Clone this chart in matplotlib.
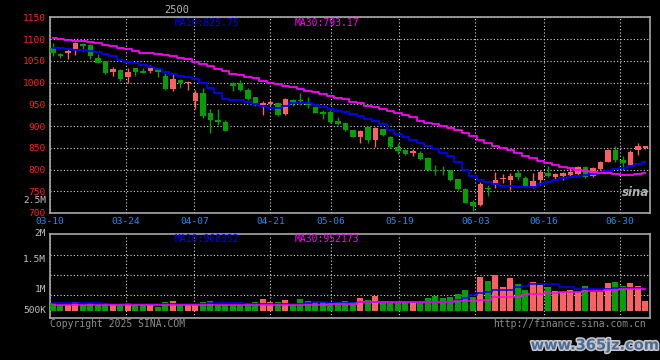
import matplotlib
matplotlib.use("Agg")
import matplotlib.pyplot as plt
import matplotlib.transforms as mtransforms
import matplotlib.patheffects as pe

# ---------------- data ----------------
date_labels = ["03-10", "03-24", "04-07", "04-21", "05-06", "05-19", "06-03", "06-16", "06-30"]
date_index = [0, 10, 19, 29, 37, 46, 56, 65, 75]

open_ = [1079, 1065, 1068, 1078, 1089, 1087, 1056, 1049, 1025, 1029,
         1013, 1033, 1026, 1027, 1033, 1015, 985, 1006, 998, 958,
         977, 929, 914, 909, 1000, 998, 983, 966, 948, 950,
         953, 928, 960, 960, 954, 944, 933, 933, 912, 908,
         891, 875, 898, 868, 893, 875, 851, 846, 839, 839,
         827, 800, 800, 799, 778, 755, 726, 718, 758, 764,
         778, 776, 791, 780, 762, 776, 793, 782, 785, 787,
         790, 806, 785, 801, 818, 846, 823, 810, 845, 849]
high = [1091, 1067, 1076, 1093, 1092, 1088, 1065, 1050, 1036, 1031,
        1033, 1034, 1034, 1040, 1034, 1021, 1020, 1008, 1004, 983,
        987, 939, 939, 913, 1002, 1006, 987, 967, 958, 960,
        955, 964, 963, 977, 967, 946, 937, 936, 921, 909,
        892, 891, 900, 898, 894, 877, 862, 848, 848, 842,
        828, 810, 807, 800, 779, 757, 730, 772, 764, 795,
        790, 791, 799, 784, 791, 798, 808, 793, 795, 806,
        808, 808, 806, 819, 847, 854, 831, 845, 860, 855]
low = [1061, 1056, 1053, 1063, 1073, 1053, 1044, 1019, 1015, 1003,
       998, 1016, 1022, 1022, 1013, 983, 980, 987, 983, 938,
       919, 883, 902, 888, 981, 981, 960, 946, 925, 945,
       922, 926, 945, 948, 941, 929, 915, 906, 902, 888,
       874, 862, 862, 851, 876, 850, 836, 834, 832, 822,
       797, 787, 787, 774, 753, 722, 705, 716, 739, 757,
       768, 753, 776, 760, 757, 765, 782, 776, 775, 784,
       788, 780, 782, 800, 817, 818, 800, 807, 833, 848]
close = [1067, 1061, 1073, 1091, 1085, 1060, 1046, 1023, 1031, 1008,
         1025, 1024, 1023, 1034, 1025, 985, 1008, 998, 1002, 977,
         923, 914, 910, 889, 992, 983, 962, 948, 952, 956,
         925, 962, 952, 957, 948, 931, 928, 910, 905, 891,
         875, 889, 869, 895, 879, 851, 843, 836, 843, 825,
         799, 797, 798, 776, 755, 724, 716, 767, 755, 777,
         780, 785, 782, 763, 774, 795, 785, 790, 791, 795,
         806, 783, 803, 818, 846, 822, 814, 841, 854, 854]

ma10 = [1080, 1078.5, 1077, 1075, 1074, 1072, 1070, 1066, 1060, 1052,
        1047, 1044, 1040, 1036, 1030, 1025, 1020, 1015.5, 1013, 1008,
        998, 987, 975, 962, 960, 959, 956, 951, 945, 941,
        941, 947, 952, 954, 952, 949, 944, 938, 935, 932,
        928, 922, 917, 912, 905, 892, 881, 874, 868, 860,
        855, 847, 839, 831, 818, 800, 785, 777, 772, 767,
        763, 761, 759, 759, 760, 766, 772, 777, 781, 783,
        785, 787, 790, 794, 797, 801, 804, 809, 813, 818]
ma30 = [1103, 1100, 1097, 1096, 1095, 1093, 1090, 1087, 1084, 1080,
        1076, 1072, 1069, 1068, 1066, 1063, 1060, 1057, 1053, 1048,
        1042, 1038, 1032, 1026, 1020, 1018, 1013, 1010, 1004, 1000,
        996, 992, 989, 985, 981, 978, 973, 969, 965, 961,
        956, 952, 947, 943, 939, 935, 930, 926, 920, 912,
        907, 904, 900, 896, 890, 884, 876, 868, 860, 853,
        849, 844, 837, 831, 826, 820, 815, 810, 806, 803,
        800, 797, 794, 792.5, 791, 789.5, 788, 787.5, 789, 791]

volume_k = [342, 256, 256, 384, 256, 342, 256, 342, 299, 299,
            342, 243, 243, 256, 171, 384, 427, 256, 256, 256,
            384, 427, 256, 256, 256, 256, 342, 384, 512, 384,
            384, 470, 256, 512, 427, 384, 384, 299, 384, 427,
            384, 555, 470, 640, 427, 448, 427, 384, 384, 384,
            542, 640, 542, 598, 726, 897, 598, 1452, 1281, 1537,
            1025, 1409, 1153, 897, 1238, 1097, 1025, 854, 811, 897,
            811, 1068, 811, 811, 1196, 1238, 1068, 1196, 1068, 427]
vol_ma10_k = [330, 330, 330, 330, 330, 330, 330, 285, 285, 285,
              285, 285, 285, 285, 285, 285, 285, 285, 285, 285,
              285, 330, 330, 330, 330, 330, 300, 300, 285, 285,
              285, 285, 300, 320, 360, 397, 397, 330, 330, 330,
              330, 397, 397, 397, 397, 397, 397, 397, 397, 397,
              397, 397, 397, 397, 470, 560, 683, 750, 824, 897,
              897, 897, 1012, 1080, 1140, 1140, 1140, 1140, 1038, 1038,
              927, 927, 927, 927, 927, 969, 969, 969, 969, 969]
vol_ma30_k = [265, 265, 265, 265, 265, 265, 265, 265, 265, 265,
              265, 265, 265, 265, 265, 265, 265, 265, 265, 265,
              265, 265, 265, 265, 265, 265, 265, 265, 265, 265,
              265, 265, 265, 265, 265, 265, 265, 285, 285, 285,
              285, 370, 370, 370, 370, 370, 370, 370, 370, 370,
              370, 370, 370, 370, 413, 413, 413, 470, 470, 612,
              612, 612, 612, 726, 726, 726, 754, 754, 797, 797,
              797, 854, 854, 854, 897, 897, 940, 940, 940, 940]

price_ticks = [700, 750, 800, 850, 900, 950, 1000, 1050, 1100, 1150]
vol_labels = ["2.5M", "2M", "1.5M", "1M", "500K"]
vol_label_at_k = [4700, 3288, 2178, 897, 0]
vol_grid_k = [670, 1524, 2378]

ma_price_text = ["MA10:825.75", "MA30:793.17"]
ma_vol_text = ["MA10:968352", "MA30:952173"]

# ---------------- style ----------------
RED = "#ff5f5f"
GREEN = "#00a000"
MONO = "DejaVu Sans Mono"
FS = 7
GRIDC = "#d8d8d8"
SPINE = "#a8a8a8"

W, H = 660, 360
fig = plt.figure(figsize=(W / 100, H / 100), dpi=100, facecolor="black")

n = len(close)
xs = [i + 0.38 for i in range(n)]
tick_pos = [d * n / (n - 1) for d in date_index]

# price panel
ax = fig.add_axes([50 / W, 1 - 213 / H, 600 / W, (213 - 17.3) / H], facecolor="black")
ax.set_xlim(0, n)
ax.set_ylim(700, 1150)
cols = [RED if c >= o else GREEN for o, c in zip(open_, close)]
ax.vlines(xs, low, high, colors=cols, linewidth=1, zorder=3)
ax.bar(xs, [abs(c - o) for o, c in zip(open_, close)],
       bottom=[min(o, c) for o, c in zip(open_, close)],
       width=0.76, color=cols, linewidth=0, zorder=4)
ax.plot(xs, ma10, color="#0000ff", lw=1.3, drawstyle="steps-mid", zorder=5)
ax.plot(xs, ma30, color="#ff00ff", lw=1.3, drawstyle="steps-mid", zorder=5)

ax.set_xticks(tick_pos)
ax.set_xticklabels(date_labels, family=MONO, fontsize=6.8, color="#1a8cff")
ax.set_yticks(price_ticks)
ax.set_yticklabels([str(p) for p in price_ticks], family=MONO, fontsize=6.8, color="#ff2020")
ax.tick_params(length=0, pad=3)
ax.tick_params(axis="x", pad=3.0)
ax.grid(True, linestyle=(0, (1, 2)), color=GRIDC, linewidth=0.8)
ax.set_axisbelow(True)
for s in ax.spines.values():
    s.set_color(SPINE)
    s.set_linewidth(1.2)

# volume panel
axv = fig.add_axes([50 / W, 1 - 318 / H, 600 / W, 84 / H], facecolor="black")
axv.set_xlim(0, n)
axv.set_ylim(-299, 3288)
axv.bar(xs, volume_k, width=0.8, color=cols, linewidth=0, zorder=3)
axv.plot(xs, vol_ma10_k, color="#0000ff", lw=1.1, drawstyle="steps-mid", zorder=5)
axv.plot(xs, vol_ma30_k, color="#ff00ff", lw=1.1, drawstyle="steps-mid", zorder=5)
axv.set_xticks(tick_pos)
axv.set_xticklabels([])
axv.set_yticks(vol_grid_k)
axv.set_yticklabels([])
axv.tick_params(length=0)
axv.grid(True, linestyle=(0, (1, 2)), color=GRIDC, linewidth=0.8)
axv.set_axisbelow(True)
for s in axv.spines.values():
    s.set_color(SPINE)
    s.set_linewidth(1.2)

blend = mtransforms.blended_transform_factory(axv.transAxes, axv.transData)
off = mtransforms.offset_copy(blend, fig=fig, x=-4, y=0, units="dots")
for lbl, v in zip(vol_labels, vol_label_at_k):
    axv.text(0, v, lbl, transform=off, ha="right", va="center", family=MONO,
             fontsize=6.8, color="#c0c0c0", clip_on=False)

# texts
fig.text(177 / W, 1 - 10 / H, "2500", family=MONO, fontsize=7.5, color="#b8b8b8",
         ha="center", va="center")
fig.text(175 / W, 1 - 23 / H, ma_price_text[0], family=MONO, fontsize=FS, color="#0000ff",
         ha="left", va="center")
fig.text(295 / W, 1 - 23 / H, ma_price_text[1], family=MONO, fontsize=FS, color="#ff00ff",
         ha="left", va="center")
fig.text(175 / W, 1 - 239 / H, ma_vol_text[0], family=MONO, fontsize=FS, color="#0000ff",
         ha="left", va="center")
fig.text(295 / W, 1 - 239 / H, ma_vol_text[1], family=MONO, fontsize=FS, color="#ff00ff",
         ha="left", va="center")
fig.text(50 / W, 1 - 324 / H, "Copyright 2025 SINA.COM", family=MONO, fontsize=FS,
         color="#8c8c8c", ha="left", va="center")
fig.text(493 / W, 1 - 324 / H, "http://finance.sina.com.cn", family=MONO, fontsize=FS,
         color="#8c8c8c", ha="left", va="center")
fig.text(636 / W, 1 - 193 / H, "sina", fontsize=8.5, fontweight="bold", style="italic",
         color="#b0b0b0", ha="center", va="center")
fig.text(595 / W, 1 - 345 / H, "www.365jz.com", fontsize=10.5, fontweight="bold",
         color="#4a6a9a", ha="center", va="center",
         path_effects=[pe.withStroke(linewidth=2.2, foreground="#c8c8c8")])

fig.savefig("out.png", dpi=100, facecolor="black")
